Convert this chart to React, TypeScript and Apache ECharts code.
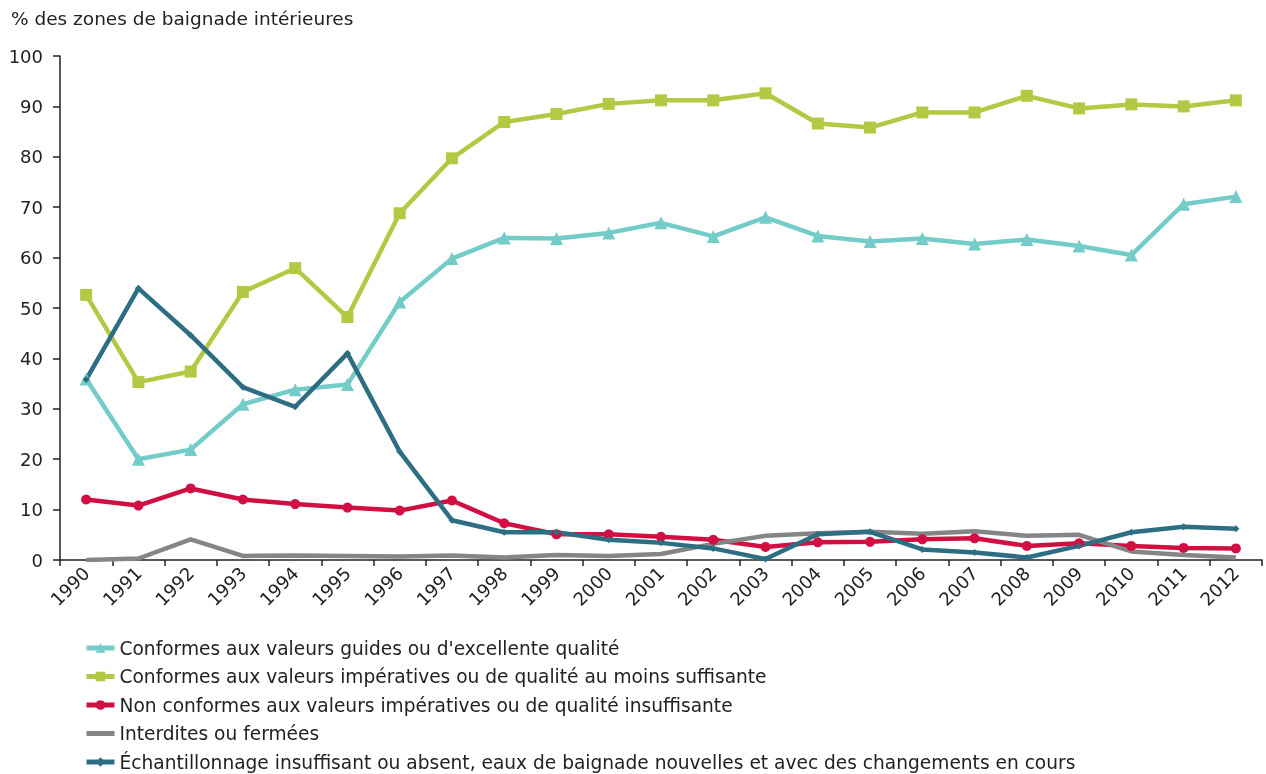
import React, { useEffect, useRef } from "react";
import * as echarts from "echarts";

const years = ["1990","1991","1992","1993","1994","1995","1996","1997","1998","1999","2000","2001","2002","2003","2004","2005","2006","2007","2008","2009","2010","2011","2012"];

const guides = [35.9, 20.0, 21.9, 30.9, 33.8, 34.8, 51.2, 59.8, 63.9, 63.8, 64.9, 66.9, 64.2, 68.0, 64.3, 63.2, 63.8, 62.7, 63.6, 62.3, 60.5, 70.6, 72.1];
const imperatives = [52.6, 35.3, 37.4, 53.2, 57.9, 48.2, 68.8, 79.7, 86.9, 88.5, 90.5, 91.2, 91.2, 92.6, 86.6, 85.8, 88.8, 88.8, 92.1, 89.6, 90.4, 90.0, 91.2];
const nonConformes = [12.0, 10.8, 14.2, 12.0, 11.1, 10.4, 9.8, 11.8, 7.3, 5.1, 5.1, 4.6, 4.0, 2.6, 3.5, 3.6, 4.1, 4.3, 2.8, 3.3, 2.8, 2.4, 2.3];
const interdites = [0.0, 0.3, 4.1, 0.8, 0.9, 0.8, 0.7, 0.9, 0.5, 1.0, 0.8, 1.2, 3.2, 4.8, 5.3, 5.6, 5.2, 5.7, 4.8, 5.0, 1.7, 1.0, 0.5];
const echantillonnage = [35.8, 53.9, 44.6, 34.3, 30.4, 41.0, 21.5, 7.9, 5.5, 5.5, 4.0, 3.4, 2.3, 0.2, 5.1, 5.6, 2.1, 1.5, 0.5, 2.8, 5.5, 6.6, 6.2];

const seriesNames = [
  "Conformes aux valeurs guides ou d'excellente qualité",
  "Conformes aux valeurs impératives ou de qualité au moins suffisante",
  "Non conformes aux valeurs impératives ou de qualité insuffisante",
  "Interdites ou fermées",
  "Échantillonnage insuffisant ou absent, eaux de baignade nouvelles et avec des changements en cours",
];

const yTitle = "% des zones de baignade intérieures";

const FONT = "DejaVu Sans, Verdana, sans-serif";
const TXT = "#222";

export default function App() {
  const ref = useRef<HTMLDivElement>(null);
  useEffect(() => {
    if (!ref.current) return;
    const chart = echarts.init(ref.current, undefined, { renderer: "svg" });
    const mk = (name: string, data: number[], color: string, symbol: string, size: number) => ({
      name,
      type: "line",
      data,
      symbol,
      symbolSize: size,
      showSymbol: symbol !== "none",
      lineStyle: { color, width: 4.5 },
      itemStyle: { color },
      emphasis: { disabled: true },
    });
    chart.setOption({
      animation: false,
      textStyle: { fontFamily: FONT },
      title: {
        text: yTitle,
        left: 11,
        top: 9,
        padding: 0,
        textStyle: { fontFamily: FONT, fontSize: 18.5, fontWeight: "normal", color: TXT },
      },
      grid: { left: 60, right: 4, top: 56, bottom: 214, containLabel: false },
      xAxis: {
        type: "category",
        data: years,
        boundaryGap: true,
        axisLine: { lineStyle: { color: TXT, width: 1.5 } },
        axisTick: { show: true, length: 6, lineStyle: { color: TXT, width: 1.5 } },
        axisLabel: { rotate: 45, fontSize: 18, color: TXT, fontFamily: FONT, margin: 10, interval: 0 },
      },
      yAxis: {
        type: "value",
        min: 0,
        max: 100,
        interval: 10,
        axisLine: { show: true, lineStyle: { color: TXT, width: 1.5 } },
        axisTick: { show: true, length: 7, lineStyle: { color: TXT, width: 1.5 } },
        splitLine: { show: false },
        axisLabel: { fontSize: 18, color: TXT, fontFamily: FONT, margin: 17 },
      },
      legend: {
        orient: "vertical",
        left: 84,
        top: 637,
        itemWidth: 28,
        itemHeight: 12,
        itemGap: 6.5,
        padding: 0,
        lineStyle: { width: 5 },
        textStyle: { fontSize: 18.6, color: TXT, fontFamily: FONT, lineHeight: 22 },
        data: [
          seriesNames[0],
          seriesNames[1],
          seriesNames[2],
          { name: seriesNames[3], icon: "path://M0 0H28V5H0Z" },
          seriesNames[4],
        ],
      },
      series: [
        mk(seriesNames[0], guides, "#74ccc8", "triangle", 13),
        mk(seriesNames[1], imperatives, "#b4c844", "rect", 12),
        mk(seriesNames[2], nonConformes, "#d10f42", "circle", 10),
        mk(seriesNames[3], interdites, "#858585", "none", 0),
        mk(seriesNames[4], echantillonnage, "#2e6e83", "diamond", 7),
      ],
    });
    return () => chart.dispose();
  }, []);
  return <div ref={ref} style={{ position: "fixed", left: 0, top: 0, width: 1266, height: 774 }} />;
}
